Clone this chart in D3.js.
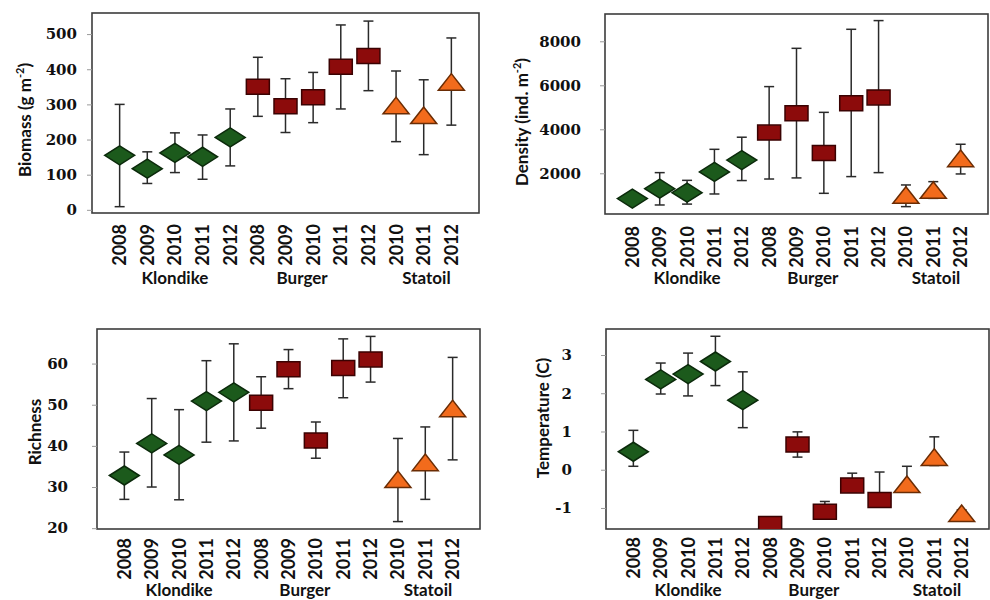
<!DOCTYPE html>
<html lang="en">
<head>
<meta charset="UTF-8">
<title>Benthic metrics by site and year</title>
<script src="https://d3js.org/d3.v7.min.js"></script>
<style>
  body { margin: 0; background: #fff; }
  svg { display: block; }
</style>
</head>
<body>
<script>

// categories
var years = ['2008', '2009', '2010', '2011', '2012', '2008', '2009', '2010', '2011', '2012', '2010', '2011', '2012'];
var sites = ['K', 'K', 'K', 'K', 'K', 'B', 'B', 'B', 'B', 'B', 'S', 'S', 'S'];
var groupNames = ['Klondike', 'Burger', 'Statoil'];
var groupAt = [3, 7.6, 12.1];

// biomass (g m-2): mean, low, high
var biomass = [155, 117, 162, 151, 206, 350, 295, 320, 407, 438, 297, 269, 364];
var biomassLo = [9, 75, 106, 87, 125, 266, 220, 248, 287, 339, 194, 157, 241];
var biomassHi = [300, 165, 219, 213, 287, 434, 373, 391, 526, 537, 395, 370, 489];

// density (ind. m-2)
var density = [850, 1300, 1120, 2060, 2600, 3850, 4730, 2920, 5180, 5450, 1015, 1240, 2680];
var densityLo = [760, 560, 600, 1060, 1670, 1740, 1790, 1090, 1850, 2030, 485, 860, 1970];
var densityHi = [940, 2030, 1680, 3090, 3640, 5940, 7680, 4770, 8545, 8940, 1470, 1620, 3320];

// richness
var richness = [32.8, 40.6, 37.8, 50.9, 53.0, 50.5, 58.6, 41.3, 58.9, 61.0, 31.9, 36.0, 49.1];
var richnessLo = [27.0, 30.0, 26.9, 40.9, 41.2, 44.3, 53.9, 37.0, 51.7, 55.5, 21.6, 27.0, 36.6];
var richnessHi = [38.5, 51.5, 48.8, 60.7, 64.8, 56.8, 63.4, 45.8, 66.0, 66.6, 41.8, 44.6, 61.5];

// temperature (C)
var temperature = [0.47, 2.36, 2.50, 2.83, 1.82, -1.42, 0.66, -1.10, -0.41, -0.79, -0.38, 0.33, -1.14];
var temperatureLo = [0.09, 1.98, 1.93, 2.20, 1.10, -1.55, 0.33, -1.23, -0.58, -0.95, -0.55, 0.11, -1.25];
var temperatureHi = [1.03, 2.79, 3.05, 3.49, 2.56, -1.30, 0.99, -0.83, -0.09, -0.06, 0.09, 0.86, -1.05];

// y ticks
var biomassTicks = [0, 100, 200, 300, 400, 500];
var densityTicks = [2000, 4000, 6000, 8000];
var richnessTicks = [20, 30, 40, 50, 60];
var temperatureTicks = [-1, 0, 1, 2, 3];

var fill = { K: '#1c5a1c', B: '#8c0b0b', S: '#f26b1c' };
var edge = { K: '#0b2a0b', B: '#3a0202', S: '#6a2c04' };

var svg = d3.select('body').append('svg').attr('width', 990).attr('height', 600);

var panels = [
  { x0: 92, x1: 479, y0: 13, y1: 213, dom: [-9, 560], ticks: biomassTicks,
    v: biomass, lo: biomassLo, hi: biomassHi, labX: 82,
    title: ['Biomass (g m', '-2', ')'], tx: 25, ty: 120, yearTop: 224, groupY: 284 },
  { x0: 605, x1: 988, y0: 14, y1: 214, dom: [150, 9240], ticks: densityTicks,
    v: density, lo: densityLo, hi: densityHi, labX: 586,
    title: ['Density (ind. m', '-2', ')'], tx: 522, ty: 122, yearTop: 226, groupY: 284 },
  { x0: 97, x1: 480, y0: 329, y1: 529, dom: [19.8, 68.4], ticks: richnessTicks,
    v: richness, lo: richnessLo, hi: richnessHi, labX: 73,
    title: ['Richness'], tx: 35, ty: 432, yearTop: 538, groupY: 596 },
  { x0: 606, x1: 989, y0: 329, y1: 529, dom: [-1.55, 3.68], ticks: temperatureTicks,
    v: temperature, lo: temperatureLo, hi: temperatureHi, labX: 577,
    title: ['Temperature (C)'], tx: 543, ty: 418, yearTop: 537, groupY: 596 }
];

panels.forEach(function(p, pi) {
  var x = d3.scaleLinear().domain([0, 14]).range([p.x0, p.x1]);
  var y = d3.scaleLinear().domain(p.dom).range([p.y1, p.y0]);
  var g = svg.append('g');

  // frame
  g.append('rect')
    .attr('x', p.x0).attr('y', p.y0)
    .attr('width', p.x1 - p.x0).attr('height', p.y1 - p.y0)
    .attr('fill', 'none').attr('stroke', '#3c3c3c').attr('stroke-width', 1.6);

  // y axis (plain hyphen for negatives, as in the source)
  var ax = g.append('g').attr('transform', 'translate(' + p.x0 + ',0)')
    .call(d3.axisLeft(y).tickValues(p.ticks).tickFormat(function(d) { return String(d); })
      .tickSize(5).tickPadding(p.x0 - p.labX));
  ax.select('.domain').remove();
  ax.selectAll('line').attr('stroke', '#9a9a9a');
  ax.selectAll('text')
    .attr('font-family', 'DejaVu Serif').attr('font-weight', 'bold')
    .attr('font-size', 15).attr('fill', '#111');

  // y title
  var t = g.append('text')
    .attr('transform', 'translate(' + p.tx + ',' + p.ty + ') rotate(-90)')
    .attr('text-anchor', 'middle').attr('dy', '0.35em')
    .attr('font-family', 'Lato').attr('font-weight', 'bold')
    .attr('font-size', 17).attr('fill', '#111');
  t.append('tspan').text(p.title[0]);
  if (p.title.length > 1) {
    t.append('tspan').attr('font-size', 11).attr('dy', '-0.6em').text(p.title[1]);
    t.append('tspan').attr('dy', '0.4em').text(p.title[2]);
  }

  // year labels
  g.selectAll('.yr').data(years).enter().append('text')
    .attr('transform', function(d, i) { return 'translate(' + x(i + 1) + ',' + p.yearTop + ') rotate(-90)'; })
    .attr('text-anchor', 'end').attr('dy', '0.36em')
    .attr('font-family', 'Lato').attr('font-weight', 'bold')
    .attr('font-size', 18).attr('fill', '#111')
    .text(function(d) { return d; });

  // group labels
  g.selectAll('.grp').data(groupNames).enter().append('text')
    .attr('x', function(d, i) { return x(groupAt[i]); })
    .attr('y', p.groupY)
    .attr('text-anchor', 'middle')
    .attr('font-family', 'Lato').attr('font-weight', 'bold')
    .attr('font-size', 17).attr('fill', '#111')
    .text(function(d) { return d; });

  // plot clip
  var cid = 'clip' + pi;
  svg.append('clipPath').attr('id', cid).append('rect')
    .attr('x', p.x0).attr('y', p.y0)
    .attr('width', p.x1 - p.x0).attr('height', p.y1 - p.y0);
  var plot = g.append('g').attr('clip-path', 'url(#' + cid + ')');

  // error bars
  var eb = plot.selectAll('.eb').data(p.v).enter().append('g')
    .attr('stroke', '#2a2a2a').attr('stroke-width', 1.5);
  eb.append('line')
    .attr('x1', function(d, i) { return x(i + 1); })
    .attr('x2', function(d, i) { return x(i + 1); })
    .attr('y1', function(d, i) { return y(p.lo[i]); })
    .attr('y2', function(d, i) { return y(p.hi[i]); });
  [p.lo, p.hi].forEach(function(arr) {
    eb.append('line')
      .attr('x1', function(d, i) { return x(i + 1) - 5; })
      .attr('x2', function(d, i) { return x(i + 1) + 5; })
      .attr('y1', function(d, i) { return y(arr[i]); })
      .attr('y2', function(d, i) { return y(arr[i]); });
  });

  // markers
  plot.selectAll('.mk').data(p.v).enter().append('path')
    .attr('transform', function(d, i) { return 'translate(' + x(i + 1) + ',' + y(d) + ')'; })
    .attr('d', function(d, i) {
      if (sites[i] === 'K') return 'M-15,0L0,-9.5L15,0L0,9.5Z';
      if (sites[i] === 'B') return 'M-11.5,-7.5H11.5V7.5H-11.5Z';
      return 'M-13,8.3L0,-8.3L13,8.3Z';
    })
    .attr('fill', function(d, i) { return fill[sites[i]]; })
    .attr('stroke', function(d, i) { return edge[sites[i]]; })
    .attr('stroke-width', 1.5);
});

</script>
</body>
</html>
